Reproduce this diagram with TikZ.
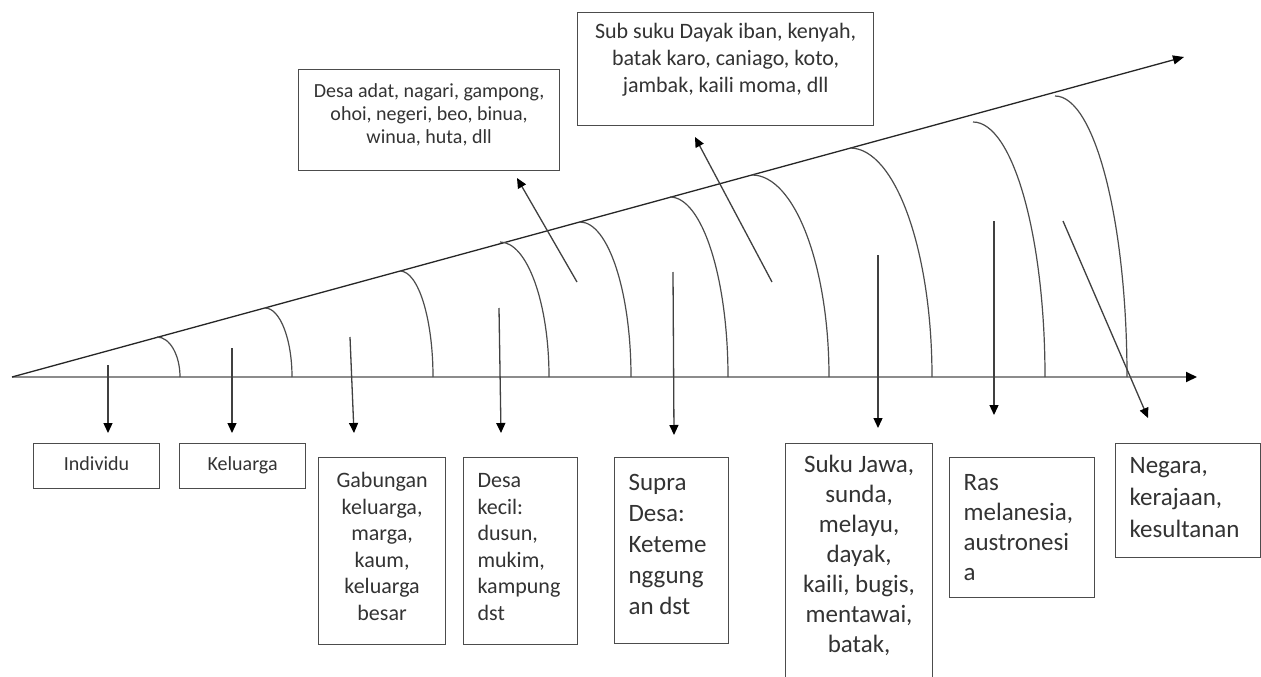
\documentclass[tikz,border=0pt]{standalone}
\usepackage{fontspec}
\setmainfont{Carlito}
\usetikzlibrary{arrows.meta}
\begin{document}
\begin{tikzpicture}[x=1pt,y=-1pt,
  axisline/.style={line width=1.8pt, draw=black!45, -{Triangle[length=11pt,width=10pt,color=black]}},
  slopeline/.style={line width=1.3pt, draw=black!85, -{Triangle[length=11pt,width=9pt,color=black]}},
  arcline/.style={line width=1.2pt, draw=black!70},
  conn/.style={line width=1.3pt, draw=black!75, -{Triangle[length=10pt,width=9pt,color=black]}},
  txtbox/.style={draw=black!70, line width=1.2pt, inner sep=0pt, anchor=north west, text=black!80},
]
\useasboundingbox (0,0) rectangle (1261,677);
\fill[white] (0,0) rectangle (1261,677);

% axes
\coordinate (O) at (12,377);
\coordinate (X) at (1197,377);
\coordinate (S) at (1184,57);
\draw[axisline] (O) -- (X);
\draw[slopeline] (O) -- (S);

% arcs (quarter ellipses from sloped line down to axis)
\foreach \tx/\ty/\bx in {157/337/180, 265/308/292, 400/271/433, 500/242/549,
  580/222/631, 670/197/728, 752/175/829, 850/148/932, 973/122/1045, 1055/96/1127}{
  \draw[arcline] (\tx,\ty) .. controls ({\tx+0.552*(\bx-\tx)},\ty) and (\bx,{377-0.552*(377-\ty)}) .. (\bx,377);
}

% boxes
\node[txtbox, font=\fontsize{20}{23}\selectfont] (adat) at (298,69)
  {\parbox[t][101pt][t]{261pt}{\centering\rule{0pt}{28pt}Desa adat, nagari, gampong,\\ ohoi, negeri, beo, binua,\\ winua, huta, dll}};
\node[txtbox, font=\fontsize{22}{27}\selectfont] (subsuku) at (577,12)
  {\parbox[t][113pt][t]{296pt}{\centering\rule{0pt}{26pt}Sub suku Dayak iban, kenyah,\\ batak karo, caniago, koto,\\ jambak, kaili moma, dll}};
\node[txtbox, font=\fontsize{20}{23}\selectfont] (individu) at (33,443)
  {\parbox[t][45pt][t]{126pt}{\centering\rule{0pt}{27pt}Individu}};
\node[txtbox, font=\fontsize{20}{23}\selectfont] (keluarga) at (179,443)
  {\parbox[t][45pt][t]{126pt}{\centering\rule{0pt}{27pt}Keluarga}};
\node[txtbox, font=\fontsize{22}{26.5}\selectfont] (gabungan) at (318,457)
  {\parbox[t][187pt][t]{127pt}{\centering\rule{0pt}{30pt}Gabungan\\ keluarga,\\ marga,\\ kaum,\\ keluarga\\ besar}};
\node[txtbox, inner xsep=14pt, font=\fontsize{22}{26.5}\selectfont] (desakecil) at (463,457)
  {\parbox[t][187pt][t]{86pt}{\raggedright\rule{0pt}{30pt}Desa\\ kecil:\\ dusun,\\ mukim,\\ kampung\\ dst}};
\node[txtbox, inner xsep=14pt, font=\fontsize{25}{31}\selectfont] (supra) at (614,457)
  {\parbox[t][186pt][t]{86pt}{\raggedright\rule{0pt}{33pt}Supra\\ Desa:\\ Keteme\\ nggung\\ an dst}};
\node[txtbox, font=\fontsize{25}{30}\selectfont] (suku) at (785,443)
  {\parbox[t][260pt][t]{147pt}{\centering\rule{0pt}{29pt}Suku Jawa,\\ sunda,\\ melayu,\\ dayak,\\ kaili, bugis,\\ mentawai,\\ batak,}};
\node[txtbox, inner xsep=14pt, font=\fontsize{25}{30}\selectfont] (ras) at (949,457)
  {\parbox[t][140pt][t]{117pt}{\raggedright\rule{0pt}{33pt}Ras\\ melanesia,\\ austronesi\\ a}};
\node[txtbox, inner xsep=14pt, font=\fontsize{25}{32}\selectfont] (negara) at (1115,443)
  {\parbox[t][114pt][t]{117pt}{\raggedright\rule{0pt}{30pt}Negara,\\ kerajaan,\\ kesultanan}};

% connector end points
\coordinate (a1s) at (108,365);  \coordinate (a1e) at (108,433);
\coordinate (a2s) at (232,348);  \coordinate (a2e) at (232,433);
\coordinate (a3s) at (350,337);  \coordinate (a3e) at (354,433);
\coordinate (a4s) at (499,308);  \coordinate (a4e) at (501,433);
\coordinate (a5s) at (673,272);  \coordinate (a5e) at (674,435);
\coordinate (a6s) at (878,255);  \coordinate (a6e) at (878,428);
\coordinate (a7s) at (994,221);  \coordinate (a7e) at (994,415);
\coordinate (a8s) at (1063,221); \coordinate (a8e) at (1148,418);
\coordinate (u1s) at (577,282);  \coordinate (u1e) at (517,178);
\coordinate (u2s) at (772,282);  \coordinate (u2e) at (695,137);

\draw[conn] (a1s) -- (a1e);
\draw[conn] (a2s) -- (a2e);
\draw[conn] (a3s) -- (a3e);
\draw[conn] (a4s) -- (a4e);
\draw[conn] (a5s) -- (a5e);
\draw[conn] (a6s) -- (a6e);
\draw[conn] (a7s) -- (a7e);
\draw[conn] (a8s) -- (a8e);
\draw[conn] (u1s) -- (u1e);
\draw[conn] (u2s) -- (u2e);
\end{tikzpicture}
\end{document}
